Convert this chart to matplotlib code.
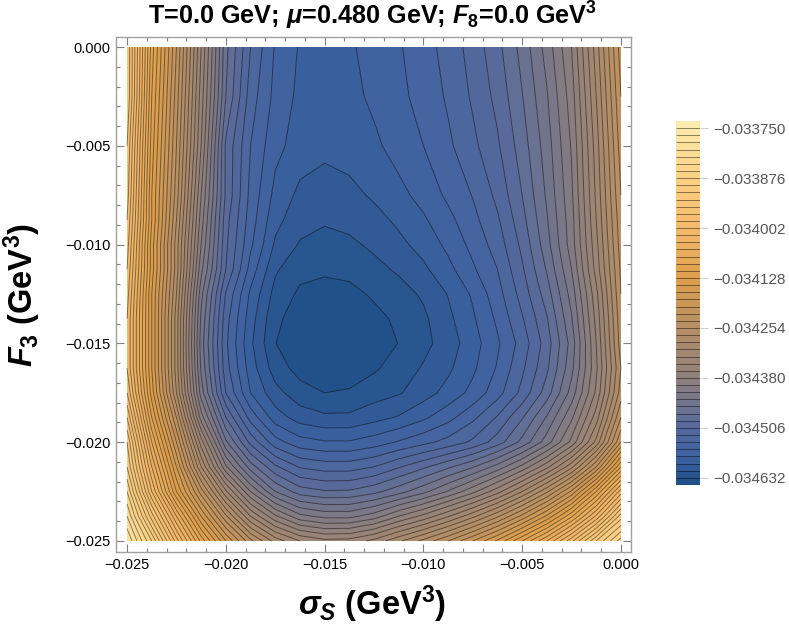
import numpy as np
import matplotlib
matplotlib.use("Agg")
import matplotlib.pyplot as plt
from matplotlib.colors import LinearSegmentedColormap
from matplotlib.ticker import MultipleLocator, FuncFormatter

sigma_s = [-0.025, -0.02375, -0.0225, -0.02125, -0.02, -0.01875, -0.0175, -0.01625, -0.015, -0.01375, -0.0125,
           -0.01125, -0.01, -0.00875, -0.0075, -0.00625, -0.005, -0.00375, -0.0025, -0.00125, 0.0]
f3 = [0.0, -0.0025, -0.005, -0.0075, -0.00875, -0.01, -0.01125, -0.0125, -0.01375, -0.015, -0.01625,
      -0.0175, -0.01875, -0.02, -0.02125, -0.0225, -0.02375, -0.025]

# potential, counted in contour steps (1 = innermost contour)
row_00 = [40, 30.5, 24, 17, 10.3, 7, 4.9, 3.9, 3.6, 3.85, 4.4, 4.9, 5.55, 6.4, 7.4, 8.7, 10.35, 12.4, 15, 19.5, 24.5]
row_01 = [40, 30, 23.5, 16.5, 10, 6.5, 4.7, 3.75, 3.45, 3.7, 4.2, 4.75, 5.35, 6.15, 7.15, 8.3, 9.95, 11.9, 14.5, 19, 24]
row_02 = [39, 29.5, 23, 16, 8.8, 6, 4.3, 3.55, 3.27, 3.45, 3.8, 4.4, 5, 5.8, 6.75, 7.85, 9.5, 11.5, 14.1, 18.5, 23.5]
row_03 = [38.5, 29, 22.5, 15, 8.8, 5.7, 3.7, 2.75, 2.5, 2.7, 3.15, 3.7, 4.35, 5.2, 6.05, 7.25, 9, 11.15, 13.8, 18.2, 23]
row_04 = [38, 29, 22, 14.5, 8.4, 5.5, 3.3, 2.4, 2.12, 2.3, 2.65, 3.2, 3.85, 4.7, 5.7, 6.85, 8.65, 10.9, 13.6, 18, 22.7]
row_05 = [37.5, 28.5, 21.5, 14, 8.2, 5.2, 2.85, 1.9, 1.65, 1.8, 2.2, 2.75, 3.35, 4.25, 5.3, 6.45, 8.25, 10.6, 13.5, 17.7, 22.5]
row_06 = [37, 28.5, 21.5, 13.3, 8, 4.6, 2.15, 1.3, 1.17, 1.3, 1.7, 2.15, 2.8, 3.7, 4.85, 6, 7.85, 10.1, 13, 17.4, 22.2]
row_07 = [36.5, 28, 21, 12.3, 6.9, 3.8, 1.65, 0.82, 0.62, 0.7, 1.15, 1.6, 2.15, 3.05, 4.15, 5.6, 7.4, 9.5, 12.4, 16.7, 22]
row_08 = [36, 28, 20.5, 11.8, 6.4, 3.45, 1.2, 0.55, 0.4, 0.45, 0.7, 1.2, 1.8, 2.75, 3.85, 5.2, 6.9, 8.9, 11.9, 16.3, 21.7]
row_09 = [36, 28, 20.5, 11.5, 6.2, 3.2, 1.02, 0.5, 0.35, 0.35, 0.55, 1.02, 1.7, 2.5, 3.55, 4.85, 6.4, 8.5, 11.4, 16, 21.5]
row_10 = [36, 28, 20.5, 11.8, 6.4, 3.5, 1.5, 0.62, 0.5, 0.6, 0.85, 1.45, 2.1, 2.8, 3.8, 5.1, 6.8, 8.8, 11.7, 15.8, 21]
row_11 = [37, 28.5, 21, 12.5, 7, 4, 2.35, 1.4, 1, 1.08, 1.55, 1.9, 2.55, 3.35, 4.3, 5.6, 7.3, 9.5, 12.4, 16.2, 21.5]
row_12 = [39, 30, 23, 14.5, 9, 5.6, 3.5, 2.55, 2.2, 2.22, 2.65, 3.1, 3.8, 4.65, 5.75, 7.1, 8.9, 11.1, 13.8, 17.5, 23]
row_13 = [41, 32, 25, 17.5, 11.2, 7.7, 5.4, 4.4, 4.1, 4.1, 4.5, 5.1, 5.7, 6.35, 7.2, 8.5, 10.3, 12.5, 15.3, 19.3, 25]
row_14 = [42, 34, 27, 20, 14.2, 10.5, 8.2, 6.9, 6.55, 6.55, 7, 7.9, 8.8, 9.8, 10.9, 12.4, 14.3, 16.7, 19.7, 24, 30]
row_15 = [44, 36, 29, 23.5, 18.2, 14, 11, 9.5, 9.1, 9.15, 9.7, 10.6, 11.7, 13.1, 14.7, 16.6, 19, 21.8, 25.2, 30, 35.5]
row_16 = [46, 39.5, 33, 27, 22.2, 18, 15.2, 13.3, 12.7, 12.7, 13.5, 15, 16.3, 17.9, 19.7, 21.8, 24.3, 27.2, 30.8, 35.2, 40.5]
row_17 = [48, 43, 36.5, 30.7, 26, 22.3, 19.6, 18, 17.3, 17.4, 18.3, 19.8, 21.3, 23, 25, 27.2, 30, 33, 36.7, 41, 44.5]

cbar_ticks = [-0.03375, -0.033876, -0.034002, -0.034128, -0.034254, -0.03438, -0.034506, -0.034632]
step = 0.000018

plt.rcParams['font.family'] = ['Liberation Sans', 'DejaVu Sans']
plt.rcParams['mathtext.fontset'] = 'custom'
plt.rcParams['mathtext.rm'] = 'Liberation Sans:bold'
plt.rcParams['mathtext.it'] = 'Liberation Sans:italic:bold'
plt.rcParams['mathtext.bf'] = 'Liberation Sans:bold'

W, H = 789, 628
fig = plt.figure(figsize=(W / 100, H / 100), dpi=100)
ax = fig.add_axes([116 / W, (H - 552) / H, 515 / W, 515 / H])

counts = np.array([row_00, row_01, row_02, row_03, row_04, row_05, row_06, row_07, row_08,
                   row_09, row_10, row_11, row_12, row_13, row_14, row_15, row_16, row_17])
omega = cbar_ticks[-1] + (counts - 1) * step
levels = cbar_ticks[-1] + (np.arange(52) - 1) * step

cmap = LinearSegmentedColormap.from_list("potential", [
    (0.0, "#1f4f86"), (4 / 51, "#3d62a0"), (8 / 51, "#56699c"), (15 / 51, "#8f807c"),
    (22 / 51, "#b58f66"), (29 / 51, "#dd9f4d"), (36 / 51, "#f3b96b"),
    (43 / 51, "#fad083"), (1.0, "#fdecb0")])

cf = ax.contourf(sigma_s, f3, omega, levels=levels, cmap=cmap)
cs = ax.contour(sigma_s, f3, omega, levels=levels[1:-1], colors="k", linewidths=0.7, alpha=0.45,
                negative_linestyles="solid")

ax.set_xlim(-0.02556, 0.00051)
ax.set_ylim(-0.02556, 0.00051)
for side in ax.spines.values():
    side.set_color("#a0a0a0")
    side.set_linewidth(1.0)
ax.xaxis.set_major_locator(MultipleLocator(0.005))
ax.yaxis.set_major_locator(MultipleLocator(0.005))
ax.xaxis.set_minor_locator(MultipleLocator(0.001))
ax.yaxis.set_minor_locator(MultipleLocator(0.001))
ax.tick_params(which="both", direction="in", top=True, right=True, color="#808080", width=0.8)
ax.tick_params(which="major", length=5.5, labelsize=10.5, pad=4)
ax.tick_params(which="minor", length=3)
fmt = FuncFormatter(lambda v, p: f"{v:.3f}".replace("-", "\u2212") if abs(v) > 1e-9 else "0.000")
ax.xaxis.set_major_formatter(fmt)
ax.yaxis.set_major_formatter(fmt)

fig.text(373 / W, 1 - 16 / H, r"T=0.0 GeV; $\mu$=0.480 GeV; $F_8$=0.0 GeV$^3$", ha="center", va="center",
         fontsize=18.2, fontweight="bold")
fig.text(372 / W, 1 - 604 / H, r"$\sigma_S$ (GeV$^3$)", ha="center", va="center", fontsize=23.5, fontweight="bold")
fig.text(22 / W, 1 - 295 / H, r"$F_3$ (GeV$^3$)", ha="center", va="center", rotation=90,
         fontsize=23.5, fontweight="bold")

cax = fig.add_axes([676 / W, (H - 485) / H, 24 / W, 364 / H])
cb = fig.colorbar(cf, cax=cax, ticks=cbar_ticks)
cb.add_lines(cs)
cb.outline.set_visible(False)
cb.ax.tick_params(length=5.5, width=0.8, color="#d0d0d0", labelcolor="#555555", labelsize=11, pad=4)
cb.ax.yaxis.set_major_formatter(FuncFormatter(lambda v, p: f"{v:.6f}".replace("-", "\u2212")))

fig.savefig("out.png", dpi=100)
